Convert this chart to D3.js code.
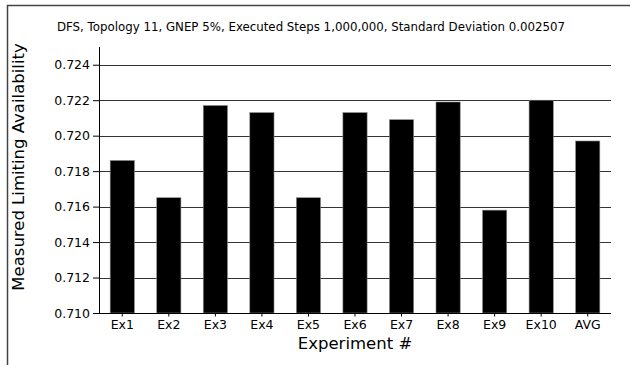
<!DOCTYPE html>
<html><head><meta charset="utf-8">
<script src="https://cdn.jsdelivr.net/npm/d3@7"></script>
<style>body{margin:0;background:#fff}svg{display:block}text{font-family:"DejaVu Sans",sans-serif;fill:#000}</style>
</head><body><svg id="c" width="630" height="365"></svg>
<script>
const categories = ["Ex1","Ex2","Ex3","Ex4","Ex5","Ex6","Ex7","Ex8","Ex9","Ex10","AVG"];
const values = [0.7186,0.7165,0.7217,0.7213,0.7165,0.7213,0.7209,0.7219,0.7158,0.7220,0.7197];
const yTicks = [0.710,0.712,0.714,0.716,0.718,0.720,0.722,0.724];
const yDomain = [0.710,0.725];
const title = "DFS, Topology 11, GNEP 5%, Executed Steps 1,000,000, Standard Deviation 0.002507";
const xLabel = "Experiment #";
const yLabel = "Measured Limiting Availability";

const svg = d3.select("#c");
const m = {l:99, r:611, t:47, b:313};
svg.append("path").attr("d","M7.5,366V5.5H631").attr("fill","none").attr("stroke","#444").attr("stroke-width",1.5);

const x = d3.scaleBand().domain(categories).range([m.l,m.r]).paddingInner(0.48).paddingOuter(0.24);
const y = d3.scaleLinear().domain(yDomain).range([m.b,m.t]);

svg.append("g").selectAll("line").data(yTicks.slice(1)).join("line")
  .attr("x1",m.l).attr("x2",m.r).attr("y1",d=>Math.round(y(d))+0.5).attr("y2",d=>Math.round(y(d))+0.5)
  .attr("stroke","#333").attr("stroke-width",1);

svg.append("g").selectAll("rect").data(values).join("rect")
  .attr("x",(d,i)=>x(categories[i])).attr("width",x.bandwidth())
  .attr("y",d=>y(d)).attr("height",d=>y(yDomain[0])-y(d))
  .attr("fill","#000").attr("stroke","#888").attr("stroke-width",0.6);

const ya = svg.append("g").attr("transform",`translate(${m.l},0)`)
  .call(d3.axisLeft(y).tickValues(yTicks).tickFormat(d3.format(".3f")).tickSize(6).tickPadding(3));
ya.select(".domain").attr("d",`M0.5,${m.t}V${m.b}`).attr("stroke","#000");
ya.selectAll(".tick line").attr("stroke","#000");
ya.selectAll("text").attr("font-size",12.5).style("font-family","DejaVu Sans");

const xa = svg.append("g").attr("transform",`translate(0,${m.b+0.5})`)
  .call(d3.axisBottom(x).tickSize(3).tickPadding(4));
xa.select(".domain").attr("d",`M${m.l},0H${m.r}`).attr("stroke","#000");
xa.selectAll(".tick line").attr("stroke","#000");
xa.selectAll("text").attr("font-size",12.5).style("font-family","DejaVu Sans");

svg.append("text").attr("x",311).attr("y",31).attr("text-anchor","middle").attr("font-size",11.8).text(title);
svg.append("text").attr("x",355).attr("y",349).attr("text-anchor","middle").attr("font-size",16.5).text(xLabel);
svg.append("text").attr("transform","translate(24,167) rotate(-90)").attr("text-anchor","middle").attr("font-size",16.5).text(yLabel);
</script></body></html>
